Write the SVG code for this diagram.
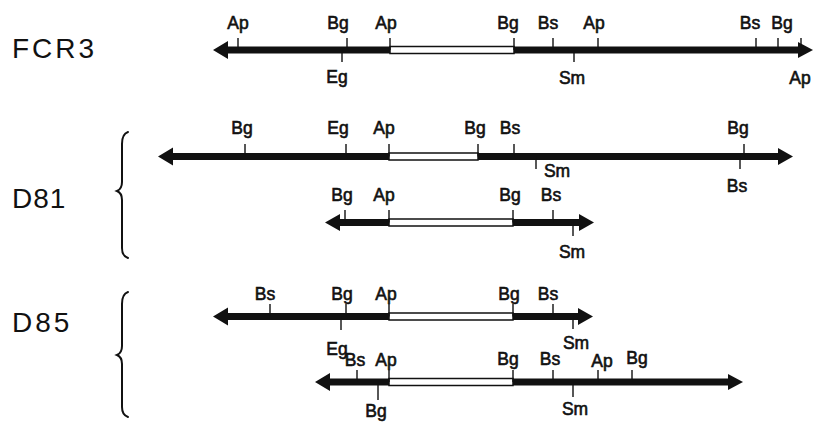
<svg xmlns="http://www.w3.org/2000/svg" width="814" height="422" viewBox="0 0 814 422">
  <style>
    .name { font-family: "Liberation Sans", Arial, sans-serif; font-size: 28px; letter-spacing: 3px; fill: #111; }
    .site { font-family: "Liberation Sans", Arial, sans-serif; font-size: 17.5px; fill: #111; stroke: #111; stroke-width: 0.6; text-anchor: middle; }
    .bar { fill: #111; }
    .open { fill: #fff; stroke: #111; stroke-width: 1.5; }
    .tick { stroke: #111; stroke-width: 1.4; fill: none; }
    .brace { stroke: #111; stroke-width: 2; fill: none; stroke-linecap: round; }
  </style>
  <rect width="814" height="422" fill="#fff"/>

  <!-- strain labels and braces -->
  <g id="label-FCR3"><text class="name" x="12" y="58">FCR3</text></g>
  <g id="label-D81">
    <text class="name" x="12" y="208" style="letter-spacing:1px">D81</text>
    <path class="brace" d="M128,132 Q122,134 122,144 L122,182 Q122,189 117,191 Q122,193 122,200 L122,248 Q122,256 128,258"/>
  </g>
  <g id="label-D85">
    <text class="name" x="12" y="332">D85</text>
    <path class="brace" d="M128,292 Q122,294 122,304 L122,346 Q122,353 117,355 Q122,357 122,364 L122,407 Q122,415 128,417"/>
  </g>

  <!-- FCR3 map, axis y=50 -->
  <g id="map-FCR3">
    <polygon class="bar" points="213,50 228,41 228,46.5 798,46.5 798,42 813,50 798,58 798,53.5 228,53.5 228,59"/>
    <rect class="open" x="390" y="46.5" width="124" height="7"/>
    <path class="tick" d="M238,50V38 M347,50V38 M390,50V38 M514,50V38 M553,50V38 M598,50V38 M756,50V38 M778,50V38 M801,50V38 M342,50V62 M574,50V62"/>
    <text class="site" x="238" y="29">Ap</text>
    <text class="site" x="338" y="29">Bg</text>
    <text class="site" x="386" y="29">Ap</text>
    <text class="site" x="508" y="29">Bg</text>
    <text class="site" x="548" y="29">Bs</text>
    <text class="site" x="594" y="29">Ap</text>
    <text class="site" x="750" y="29">Bs</text>
    <text class="site" x="782" y="29">Bg</text>
    <text class="site" x="337" y="83">Eg</text>
    <text class="site" x="572" y="84">Sm</text>
    <text class="site" x="800" y="84">Ap</text>
  </g>

  <!-- D81 first map, axis y=156.5 -->
  <g id="map-D81-a">
    <polygon class="bar" points="158,156.5 173,147.5 173,153 778,153 778,148 793,156.5 778,165 778,160 173,160 173,165.5"/>
    <rect class="open" x="389" y="153" width="89" height="7"/>
    <path class="tick" d="M245,156.5V144 M346,156.5V144 M389,156.5V144 M478,156.5V144 M514,156.5V144 M744,156.5V144 M536,156.5V169 M740,156.5V169"/>
    <text class="site" x="242" y="134">Bg</text>
    <text class="site" x="338" y="134">Eg</text>
    <text class="site" x="384" y="134">Ap</text>
    <text class="site" x="475" y="134">Bg</text>
    <text class="site" x="510" y="134">Bs</text>
    <text class="site" x="738" y="134">Bg</text>
    <text class="site" x="557" y="177">Sm</text>
    <text class="site" x="737" y="192">Bs</text>
  </g>

  <!-- D81 second map, axis y=222.5 -->
  <g id="map-D81-b">
    <polygon class="bar" points="325,222.5 340,214 340,219 579,219 579,214 594,222.5 579,231 579,226 340,226 340,231"/>
    <rect class="open" x="389" y="219" width="124" height="7"/>
    <path class="tick" d="M345,222.5V210 M389,222.5V210 M513,222.5V210 M553,222.5V210 M573,222.5V236"/>
    <text class="site" x="342" y="201">Bg</text>
    <text class="site" x="384" y="201">Ap</text>
    <text class="site" x="510" y="201">Bg</text>
    <text class="site" x="551" y="201">Bs</text>
    <text class="site" x="572" y="258">Sm</text>
  </g>

  <!-- D85 first map, axis y=316.5 -->
  <g id="map-D85-a">
    <polygon class="bar" points="213,316.5 228,307.5 228,313 578,313 578,308 593,316.5 578,325 578,320 228,320 228,325.5"/>
    <rect class="open" x="389" y="313" width="124" height="7"/>
    <path class="tick" d="M270,316.5V304 M346,316.5V304 M389,316.5V304 M513,316.5V304 M553,316.5V304 M341,316.5V330 M573,316.5V329"/>
    <text class="site" x="265" y="300">Bs</text>
    <text class="site" x="342" y="300">Bg</text>
    <text class="site" x="386" y="300">Ap</text>
    <text class="site" x="509" y="300">Bg</text>
    <text class="site" x="548" y="300">Bs</text>
    <text class="site" x="337" y="355">Eg</text>
    <text class="site" x="576" y="349">Sm</text>
  </g>

  <!-- D85 second map, axis y=382 -->
  <g id="map-D85-b">
    <polygon class="bar" points="315,382 330,373 330,378.5 728,378.5 728,374 743,382 728,390 728,385.5 330,385.5 330,391"/>
    <rect class="open" x="389" y="378.5" width="124" height="7"/>
    <path class="tick" d="M357,382V370 M389,382V370 M513,382V370 M553,382V370 M598,382V370 M632,382V370 M378,382V400 M573,382V397"/>
    <text class="site" x="355" y="366">Bs</text>
    <text class="site" x="386" y="366">Ap</text>
    <text class="site" x="508" y="365">Bg</text>
    <text class="site" x="550" y="365">Bs</text>
    <text class="site" x="602" y="367">Ap</text>
    <text class="site" x="637" y="364">Bg</text>
    <text class="site" x="376" y="417">Bg</text>
    <text class="site" x="575" y="415">Sm</text>
  </g>
</svg>
